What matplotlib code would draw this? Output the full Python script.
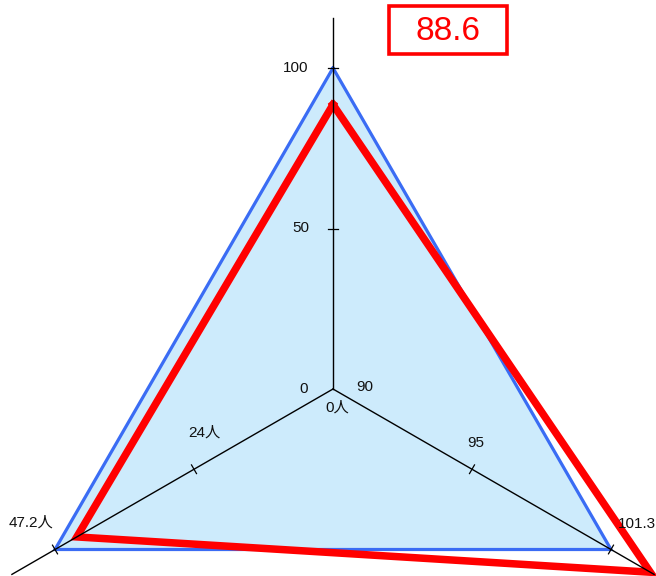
import matplotlib
matplotlib.use("Agg")
import matplotlib.pyplot as plt
import numpy as np
from matplotlib.patches import Rectangle

plt.rcParams["font.family"] = ["Liberation Sans", "Noto Sans CJK JP", "DejaVu Sans"]

# three radar axes: top, bottom-left, bottom-right
axis_angles = [90, 210, 330]
axis_min = [0, 0, 90]
axis_max = [100, 47.2, 101.3]
tick_labels = [["0", "50", "100"], ["0人", "24人", "47.2人"], ["90", "95", "101.3"]]
blue_values = [100, 47.2, 101.3]
red_values = [88.6, 43.5, 102.9]
score_text = "88.6"

BLUE, FILL, RED = "#3a6cf4", "#cdebfc", "#ff0000"
W, H, R = 656, 576, 321          # figure px, px per unit radius
CX, CY = 333, 389                # centre in image pixels (from top-left)


def to_xy(vals):
    pts = []
    for v, a, lo, hi in zip(vals, axis_angles, axis_min, axis_max):
        f = (v - lo) / (hi - lo)
        pts.append((f * np.cos(np.radians(a)), f * np.sin(np.radians(a))))
    return np.array(pts)


fig = plt.figure(figsize=(W / 100, H / 100), dpi=100)
ax = fig.add_axes([0, 0, 1, 1])
ax.set_xlim(-CX / R, (W - CX) / R)
ax.set_ylim(-(H - CY) / R, CY / R)
ax.axis("off")

blue = to_xy(blue_values)
red = to_xy(red_values)
ax.fill(blue[:, 0], blue[:, 1], color=FILL, zorder=1)
ax.plot(*np.vstack([blue, blue[:1]]).T, color=BLUE, lw=2.3, zorder=2,
        solid_joinstyle="miter")
ax.plot(*np.vstack([red, red[:1]]).T, color=RED, lw=5.4, zorder=3,
        solid_joinstyle="miter")

# axis lines with ticks at half and full scale
tick_len = 5 / R
for a in axis_angles:
    d = np.array([np.cos(np.radians(a)), np.sin(np.radians(a))])
    n = np.array([-d[1], d[0]])
    ax.plot([0, 1.155 * d[0]], [0, 1.155 * d[1]], color="black", lw=1.0, zorder=4)
    for f in (0.5, 1.0):
        p = f * d
        ax.plot([p[0] - tick_len * n[0], p[0] + tick_len * n[0]],
                [p[1] - tick_len * n[1], p[1] + tick_len * n[1]],
                color="black", lw=0.9, zorder=4)

# tick labels (pixel offsets from each tick)
offsets = [
    [(-25, 0, "right"), (-24, 0, "right"), (-25, 0, "right")],
    [(4, -19, "center"), (10, 37, "center"), (-24, 27, "center")],
    [(32, 2, "center"), (4, 26, "center"), (7, 26, "left")],
]
for i, a in enumerate(axis_angles):
    d = np.array([np.cos(np.radians(a)), np.sin(np.radians(a))])
    for j, f in enumerate((0.0, 0.5, 1.0)):
        dx, dy, ha = offsets[i][j]
        ax.annotate(tick_labels[i][j], xy=f * d, xytext=(dx, dy),
                    textcoords="offset pixels", ha=ha, va="center",
                    fontsize=11, color="#111111", zorder=5)

# score box
fig.patches.append(Rectangle((389 / W, 1 - 54 / H), 118 / W, 48 / H,
                             transform=fig.transFigure, fill=False,
                             edgecolor=RED, lw=2.6))
fig.text(448 / W, 1 - 31 / H, score_text, ha="center", va="center",
         fontsize=24, color=RED)

fig.savefig("out.png", dpi=100, facecolor="white")
